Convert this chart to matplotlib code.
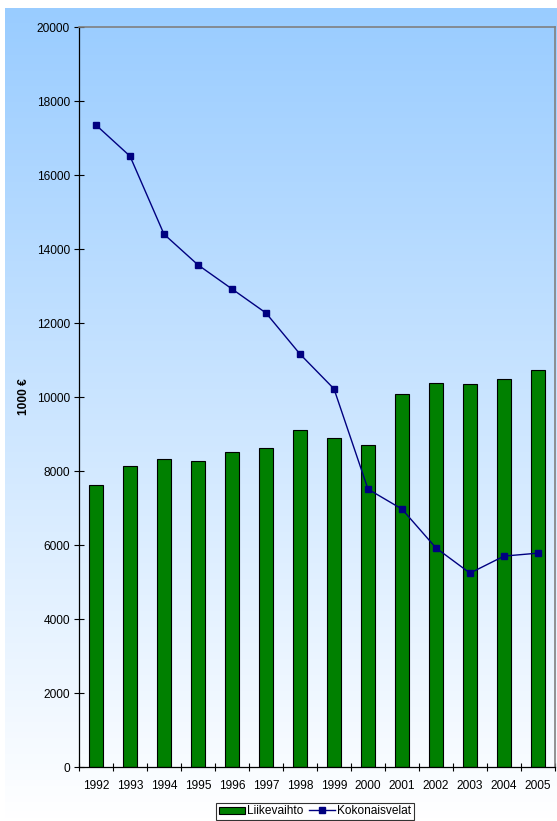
import numpy as np
import matplotlib
matplotlib.use("Agg")
import matplotlib.pyplot as plt
from matplotlib.lines import Line2D
from matplotlib.patches import Patch

plt.rcParams['font.family'] = ['Liberation Sans', 'DejaVu Sans']

years = ['1992', '1993', '1994', '1995', '1996', '1997', '1998',
         '1999', '2000', '2001', '2002', '2003', '2004', '2005']
liikevaihto = [7610, 8130, 8320, 8280, 8510, 8610, 9110,
               8900, 8700, 10070, 10370, 10360, 10480, 10740]
kokonaisvelat = [17350, 16510, 14400, 13570, 12920, 12270, 11160,
                 10220, 7510, 6970, 5920, 5240, 5700, 5780]

W, H = 557, 821
fig = plt.figure(figsize=(W / 100, H / 100), dpi=100, facecolor='white')

# background gradient (light blue at top to white at bottom)
bg = fig.add_axes([5 / W, 0, 1 - 5 / W, 1 - 8 / H], zorder=0)
top = np.array([0x99, 0xCC, 0xFF]) / 255
grad = np.linspace(0, 1, 256)[:, None]
img = top[None, :] * (1 - grad) + np.ones(3)[None, :] * grad
bg.imshow(img[:, None, :], aspect='auto', extent=[0, 1, 0, 1], origin='upper')
bg.axis('off')

ax = fig.add_axes([79 / W, (H - 767) / H, 476 / W, 740 / H], zorder=1)
ax.patch.set_alpha(0)

x = np.arange(len(years))
ax.bar(x, liikevaihto, width=0.42, color='#008000', edgecolor='black',
       linewidth=0.8, zorder=2)
ax.plot(x, kokonaisvelat, color='#000080', linewidth=1.0, marker='s',
        markersize=4.8, zorder=3)

ax.set_xlim(-0.5, len(years) - 0.5)
ax.set_ylim(0, 20000)
ax.set_yticks(np.arange(0, 20001, 2000))
ax.set_xticks(x)
ax.set_xticklabels(years)
ax.set_xticks(np.arange(-0.5, len(years), 1), minor=True)
ax.tick_params(axis='x', which='major', length=0, pad=9, labelsize=8.6)
ax.tick_params(axis='x', which='minor', length=6, direction='inout', width=0.8)
ax.tick_params(axis='y', length=7, direction='inout', width=0.8, labelsize=8.6, pad=3)

for s in ['left', 'bottom']:
    ax.spines[s].set_color('black')
    ax.spines[s].set_linewidth(0.9)
for s in ['top', 'right']:
    ax.spines[s].set_color('#808080')
    ax.spines[s].set_linewidth(1.2)

ax.set_ylabel('1000 €', fontsize=8.6, fontweight='bold', labelpad=5)

handles = [Patch(facecolor='#008000', edgecolor='black', linewidth=0.8),
           Line2D([], [], color='#000080', marker='s', markersize=4.8, linewidth=1.0)]
leg = fig.legend(handles, ['Liikevaihto', 'Kokonaisvelat'], loc='upper center',
                 bbox_to_anchor=(315 / W, 1 - 803 / H), ncol=2, fontsize=8.6,
                 frameon=True, fancybox=False, edgecolor='black',
                 handlelength=2.2, handleheight=0.55, handletextpad=0.15,
                 columnspacing=0.5, borderpad=0.2, borderaxespad=0)
leg.get_frame().set_linewidth(0.8)

fig.savefig('out.png', dpi=100, facecolor='white')
